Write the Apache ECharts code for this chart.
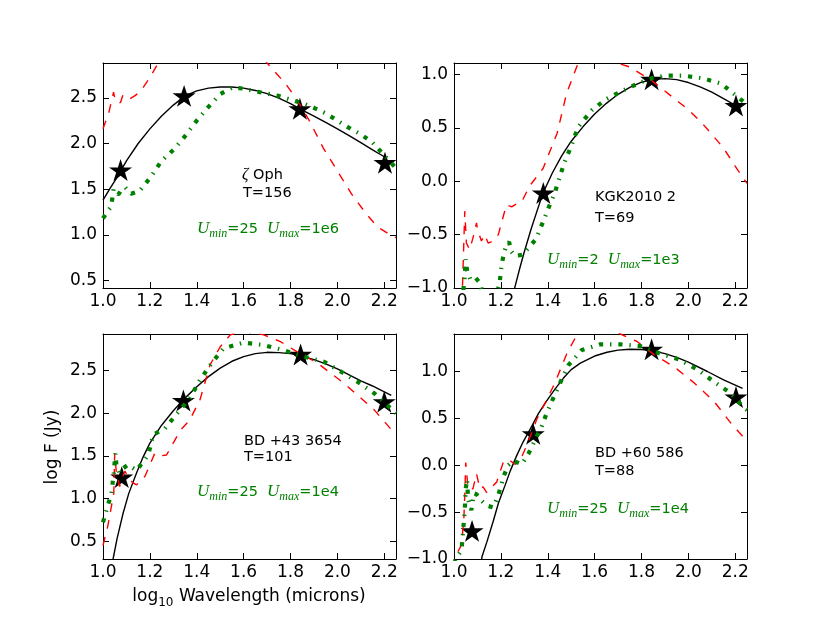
<!DOCTYPE html>
<html lang="en">
<head>
<meta charset="UTF-8">
<title>SED fits</title>
<script src="https://cdn.jsdelivr.net/npm/echarts@6.0.0/dist/echarts.min.js"></script>
<style>
  html, body { margin: 0; padding: 0; background: #fff; }
  #chart { width: 830px; height: 623px; }
</style>
</head>
<body>
<div id="chart"></div>
<script>
// Values: x = log10 wavelength (microns), y = log F (Jy)

// zeta Oph
const ophPhot = [[1.075, 1.71], [1.346, 2.52], [1.84, 2.38], [2.203, 1.79]];
const ophFit = [[1.0, 1.38], [1.03, 1.51], [1.06, 1.63], [1.1, 1.81], [1.15, 2.0], [1.2, 2.16], [1.25, 2.30],
  [1.3, 2.42], [1.35, 2.52], [1.4, 2.575], [1.45, 2.605], [1.5, 2.617], [1.55, 2.617], [1.6, 2.605], [1.65, 2.58],
  [1.7, 2.545], [1.75, 2.495], [1.8, 2.435], [1.85, 2.365], [1.9, 2.30], [1.95, 2.23], [2.0, 2.16], [2.05, 2.085],
  [2.1, 2.01], [2.15, 1.93], [2.2, 1.855]];
const ophDashed = [[1.0, 2.16], [1.025, 2.34], [1.045, 2.56], [1.05, 2.50], [1.065, 2.44], [1.075, 2.45], [1.085, 2.53],
  [1.1, 2.52], [1.115, 2.49], [1.135, 2.52], [1.16, 2.57], [1.2, 2.72], [1.236, 2.88], [1.3, 3.15], [1.45, 3.4],
  [1.6, 3.2], [1.7, 2.88], [1.78, 2.65], [1.83, 2.47], [1.88, 2.25], [1.94, 1.95], [2.0, 1.70], [2.06, 1.45],
  [2.12, 1.24], [2.17, 1.09], [2.22, 1.01], [2.25, 0.97]];
const ophDashDot = [[1.0, 1.18], [1.02, 1.26], [1.035, 1.31], [1.045, 1.50], [1.055, 1.47], [1.065, 1.44], [1.08, 1.50],
  [1.095, 1.52], [1.12, 1.45], [1.155, 1.48], [1.2, 1.62], [1.25, 1.81], [1.3, 1.93], [1.35, 2.08], [1.4, 2.25],
  [1.45, 2.40], [1.5, 2.54], [1.55, 2.61], [1.6, 2.60], [1.65, 2.57], [1.7, 2.545], [1.75, 2.52], [1.8, 2.48],
  [1.85, 2.44], [1.9, 2.39], [1.95, 2.33], [2.0, 2.25], [2.05, 2.17], [2.1, 2.10], [2.15, 2.01], [2.2, 1.87], [2.25, 1.73]];

// KGK2010 2
const kgkPhot = [[1.381, -0.11], [1.843, 0.955], [2.203, 0.71]];
const kgkFit = [[1.22, -1.4], [1.24, -1.19], [1.26, -0.99], [1.28, -0.82], [1.30, -0.66], [1.33, -0.44], [1.36, -0.24],
  [1.38, -0.11], [1.42, 0.08], [1.46, 0.24], [1.5, 0.375], [1.55, 0.51], [1.6, 0.63], [1.65, 0.73], [1.7, 0.815],
  [1.75, 0.88], [1.8, 0.928], [1.85, 0.955], [1.9, 0.962], [1.95, 0.952], [2.0, 0.925], [2.05, 0.885], [2.1, 0.835],
  [2.15, 0.775], [2.2, 0.712]];
const kgkDashed = [[1.02, -1.3], [1.036, -1.0], [1.046, -0.28], [1.053, -0.58], [1.067, -0.64], [1.081, -0.53],
  [1.096, -0.39], [1.1, -0.45], [1.117, -0.56], [1.131, -0.50], [1.146, -0.58], [1.167, -0.56], [1.189, -0.50],
  [1.21, -0.33], [1.224, -0.22], [1.246, -0.24], [1.267, -0.21], [1.289, -0.19], [1.324, -0.04], [1.38, 0.12],
  [1.44, 0.45], [1.48, 0.82], [1.53, 1.11], [1.6, 1.28], [1.68, 1.12], [1.75, 1.07], [1.84, 0.95], [1.94, 0.775],
  [2.0, 0.67], [2.05, 0.565], [2.1, 0.44], [2.15, 0.31], [2.2, 0.14], [2.25, -0.02]];
const kgkDashDot = [[1.03, -1.2], [1.045, -0.92], [1.05, -0.73], [1.056, -0.84], [1.07, -0.92], [1.09, -0.90],
  [1.11, -0.95], [1.13, -1.1], [1.17, -1.15], [1.195, -0.95], [1.203, -0.78], [1.215, -0.66], [1.225, -0.59],
  [1.235, -0.57], [1.245, -0.66], [1.26, -0.70], [1.29, -0.69], [1.32, -0.62], [1.35, -0.54], [1.38, -0.38],
  [1.405, -0.24], [1.43, -0.11], [1.445, 0.0], [1.47, 0.17], [1.5, 0.33], [1.53, 0.51], [1.59, 0.67], [1.65, 0.77],
  [1.72, 0.85], [1.8, 0.93], [1.85, 0.97], [1.91, 0.99], [1.98, 0.99], [2.06, 0.965], [2.14, 0.915], [2.21, 0.79],
  [2.25, 0.72]];

// BD +43 3654
const bd43Phot = [[1.08, 1.25], [1.343, 2.15], [1.843, 2.69], [2.2, 2.135]];
const bd43Fit = [[1.035, 0.15], [1.043, 0.29], [1.06, 0.53], [1.086, 0.83], [1.11, 1.06], [1.143, 1.30], [1.17, 1.48],
  [1.2, 1.65], [1.25, 1.86], [1.3, 2.03], [1.343, 2.16], [1.4, 2.31], [1.45, 2.43], [1.5, 2.53], [1.55, 2.61],
  [1.6, 2.665], [1.65, 2.70], [1.7, 2.715], [1.75, 2.712], [1.8, 2.70], [1.85, 2.67], [1.9, 2.63], [1.95, 2.58],
  [2.0, 2.52], [2.05, 2.45], [2.1, 2.38], [2.15, 2.32], [2.2, 2.25], [2.23, 2.21]];
const bd43Dashed = [[1.0, 0.45], [1.02, 0.67], [1.036, 0.91], [1.046, 1.06], [1.05, 1.53], [1.057, 1.30], [1.071, 1.14],
  [1.093, 1.32], [1.107, 1.26], [1.125, 1.19], [1.143, 1.16], [1.179, 1.26], [1.221, 1.53], [1.243, 1.50],
  [1.271, 1.51], [1.33, 1.80], [1.37, 1.92], [1.414, 2.16], [1.457, 2.57], [1.5, 2.78], [1.543, 2.92], [1.6, 2.96],
  [1.686, 2.92], [1.757, 2.84], [1.829, 2.72], [1.914, 2.59], [2.029, 2.35], [2.157, 2.04], [2.236, 1.79]];
const bd43DashDot = [[1.0, 0.72], [1.007, 0.79], [1.036, 1.06], [1.046, 1.30], [1.053, 1.53], [1.057, 1.40],
  [1.071, 1.30], [1.086, 1.355], [1.107, 1.395], [1.143, 1.33], [1.193, 1.51], [1.214, 1.75], [1.264, 1.82],
  [1.317, 2.0], [1.371, 2.18], [1.414, 2.39], [1.464, 2.59], [1.514, 2.76], [1.6, 2.83], [1.686, 2.80],
  [1.771, 2.74], [1.857, 2.665], [1.943, 2.605], [2.014, 2.49], [2.086, 2.37], [2.157, 2.235], [2.25, 2.0]];

// BD +60 586
const bd60Phot = [[1.077, -0.70], [1.338, 0.335], [1.843, 1.237], [2.203, 0.728]];
const bd60Fit = [[1.105, -1.2], [1.12, -0.97], [1.14, -0.82], [1.167, -0.60], [1.19, -0.40], [1.217, -0.22],
  [1.24, -0.06], [1.267, 0.10], [1.295, 0.25], [1.324, 0.38], [1.36, 0.55], [1.396, 0.69], [1.43, 0.81],
  [1.467, 0.93], [1.5, 1.02], [1.539, 1.09], [1.6, 1.165], [1.653, 1.205], [1.7, 1.228], [1.75, 1.237],
  [1.8, 1.235], [1.85, 1.22], [1.9, 1.19], [1.95, 1.15], [2.0, 1.10], [2.081, 1.0], [2.15, 0.91], [2.231, 0.82]];
const bd60Dashed = [[1.0, -1.1], [1.017, -0.92], [1.032, -0.85], [1.042, -0.57], [1.046, -0.32], [1.05, 0.03],
  [1.06, -0.25], [1.081, -0.25], [1.096, -0.09], [1.11, -0.25], [1.124, -0.23], [1.139, -0.29], [1.153, -0.25],
  [1.182, -0.18], [1.21, 0.03], [1.231, 0.065], [1.26, 0.01], [1.282, 0.05], [1.31, 0.21], [1.332, 0.35],
  [1.353, 0.49], [1.389, 0.665], [1.431, 0.88], [1.481, 1.19], [1.524, 1.39], [1.6, 1.6], [1.71, 1.40],
  [1.781, 1.32], [1.853, 1.18], [1.939, 1.05], [2.024, 0.88], [2.11, 0.68], [2.181, 0.45], [2.231, 0.31]];
const bd60DashDot = [[1.0, -1.05], [1.015, -0.97], [1.032, -0.91], [1.039, -0.69], [1.046, -0.48], [1.05, -0.25],
  [1.056, -0.15], [1.06, -0.36], [1.074, -0.48], [1.085, -0.30], [1.096, -0.31], [1.11, -0.36], [1.139, -0.43],
  [1.167, -0.45], [1.189, -0.32], [1.21, -0.13], [1.231, 0.0], [1.253, 0.047], [1.289, 0.01], [1.317, 0.12],
  [1.35, 0.29], [1.375, 0.42], [1.396, 0.56], [1.417, 0.68], [1.453, 0.88], [1.489, 1.07], [1.546, 1.23],
  [1.624, 1.29], [1.71, 1.29], [1.796, 1.27], [1.881, 1.19], [1.96, 1.13], [2.039, 1.02], [2.11, 0.89],
  [2.174, 0.78], [2.239, 0.61], [2.25, 0.59]];

// Panel text
const starNames = ['ζ Oph', 'KGK2010 2', 'BD +43 3654', 'BD +60 586'];
const temps = ['T=156', 'T=69', 'T=101', 'T=88'];
const uMins = ['25', '2', '25', '25'];
const uMaxs = ['1e6', '1e3', '1e4', '1e4'];

const GREEN = '#008000';
const STAR = 'path://M50,0L61.23,34.55L97.55,34.55L68.17,55.9L79.39,90.45L50,69.1L20.61,90.45L31.83,55.9L2.45,34.55L38.77,34.55Z';
const TICK_FONT = 'DejaVu Sans';

const panels = [
  { phot: ophPhot, fit: ophFit, dashed: ophDashed, dashDot: ophDashDot, yMin: 0.42, yMax: 2.88, left: 103, top: 63 },
  { phot: kgkPhot, fit: kgkFit, dashed: kgkDashed, dashDot: kgkDashDot, yMin: -1.0, yMax: 1.108, left: 454, top: 63 },
  { phot: bd43Phot, fit: bd43Fit, dashed: bd43Dashed, dashDot: bd43DashDot, yMin: 0.29, yMax: 2.93, left: 103, top: 334 },
  { phot: bd60Phot, fit: bd60Fit, dashed: bd60Dashed, dashDot: bd60DashDot, yMin: -1.0, yMax: 1.40, left: 454, top: 334 }
];
// where the annotations sit (pixels)
const notePos = [
  { name: [242, 175], temp: [243, 193], u: [197, 229] },
  { name: [595, 197], temp: [595, 218], u: [547, 260] },
  { name: [244, 441], temp: [244, 457], u: [197, 492] },
  { name: [595, 453], temp: [595, 471], u: [547, 509] }
];

function tickFmt(step) {
  return function (v) {
    const k = v / step;
    if (Math.abs(k - Math.round(k)) > 1e-6) return '';
    if (Math.abs(v) < 1e-9) v = 0;
    return v.toFixed(1).replace('-', '\u2212');
  };
}

function makeAxis(kind, gridIndex, position, withLabels, min, max, split, step) {
  return {
    type: 'value', gridIndex: gridIndex, position: position, min: min, max: max, splitNumber: split,
    axisLine: { show: true, onZero: false, lineStyle: { color: '#000', width: 1 } },
    axisTick: { show: true, inside: true, length: 6, lineStyle: { color: '#000', width: 1 } },
    axisLabel: {
      show: withLabels, color: '#000', fontFamily: TICK_FONT, fontSize: 17,
      margin: kind === 'x' ? 5 : 6, formatter: tickFmt(step)
    },
    splitLine: { show: false }
  };
}

const grid = [], xAxis = [], yAxis = [], series = [], graphic = [];
panels.forEach(function (p, i) {
  grid.push({ left: p.left, top: p.top, width: 293, height: 225, outerBoundsMode: 'none' });
  xAxis.push(makeAxis('x', i, 'bottom', true, 1.0, 2.25, 6, 0.2));
  xAxis.push(makeAxis('x', i, 'top', false, 1.0, 2.25, 6, 0.2));
  yAxis.push(makeAxis('y', i, 'left', true, p.yMin, p.yMax, 5, 0.5));
  yAxis.push(makeAxis('y', i, 'right', false, p.yMin, p.yMax, 5, 0.5));
  const xi = 2 * i, yi = 2 * i;
  series.push({
    type: 'scatter', xAxisIndex: xi, yAxisIndex: yi, data: p.phot, symbol: STAR, symbolSize: 23,
    symbolKeepAspect: true, itemStyle: { color: '#000', opacity: 1 }, z: 1, silent: true
  });
  series.push({
    type: 'line', xAxisIndex: xi, yAxisIndex: yi, data: p.fit, showSymbol: false, z: 2,
    lineStyle: { color: '#000', width: 1.4, type: 'solid' }
  });
  series.push({
    type: 'line', xAxisIndex: xi, yAxisIndex: yi, data: p.dashed, showSymbol: false, z: 3,
    lineStyle: { color: '#ff0000', width: 1.4, type: [8.6, 8.6] }
  });
  series.push({
    type: 'line', xAxisIndex: xi, yAxisIndex: yi, data: p.dashDot, showSymbol: false, z: 4,
    lineStyle: { color: GREEN, width: 4.2, type: [4.2, 6.9, 1.4, 6.9], cap: 'butt' }
  });

  const pos = notePos[i];
  const nameText = i === 0 ? '{g|ζ}{n| Oph}' : '{n|' + starNames[i] + '}';
  graphic.push({
    type: 'text', x: pos.name[0], y: pos.name[1],
    style: {
      text: nameText, align: 'left', verticalAlign: 'middle', textAlign: 'left', textVerticalAlign: 'middle',
      rich: {
        g: { fontFamily: 'Liberation Serif', fontStyle: 'italic', fontSize: 16, fill: '#000', color: '#000' },
        n: { fontFamily: TICK_FONT, fontSize: 14.5, fill: '#000', color: '#000' }
      }
    }
  });
  graphic.push({
    type: 'text', x: pos.temp[0], y: pos.temp[1],
    style: {
      text: temps[i], fontFamily: TICK_FONT, fontSize: 14.5, fill: '#000',
      align: 'left', verticalAlign: 'middle', textAlign: 'left', textVerticalAlign: 'middle'
    }
  });
  graphic.push({
    type: 'text', x: pos.u[0], y: pos.u[1],
    style: {
      text: '{u|U}{s|min}{n|=' + uMins[i] + '  }{u|U}{s|max}{n|=' + uMaxs[i] + '}',
      align: 'left', verticalAlign: 'middle', textAlign: 'left', textVerticalAlign: 'middle',
      rich: {
        u: { fontFamily: 'Liberation Serif', fontStyle: 'italic', fontSize: 17, fill: GREEN, color: GREEN, lineHeight: 22 },
        s: { fontFamily: 'Liberation Serif', fontStyle: 'italic', fontSize: 12, fill: GREEN, color: GREEN, lineHeight: 12, verticalAlign: 'bottom' },
        n: { fontFamily: TICK_FONT, fontSize: 14.5, fill: GREEN, color: GREEN, lineHeight: 22 }
      }
    }
  });
});

// axis titles
graphic.push({
  type: 'text', x: 53, y: 447, rotation: Math.PI / 2,
  style: {
    text: 'log F (Jy)', fontFamily: TICK_FONT, fontSize: 17, fill: '#000',
    align: 'center', verticalAlign: 'middle', textAlign: 'center', textVerticalAlign: 'middle'
  }
});
graphic.push({
  type: 'text', x: 249, y: 597,
  style: {
    text: '{n|log}{s|10}{n| Wavelength (microns)}',
    align: 'center', verticalAlign: 'middle', textAlign: 'center', textVerticalAlign: 'middle',
    rich: {
      n: { fontFamily: TICK_FONT, fontSize: 17, fill: '#000', color: '#000', lineHeight: 24 },
      s: { fontFamily: TICK_FONT, fontSize: 12, fill: '#000', color: '#000', lineHeight: 12, verticalAlign: 'bottom' }
    }
  }
});

const chart = echarts.init(document.getElementById('chart'));
chart.setOption({
  backgroundColor: '#fff',
  animation: false,
  grid: grid,
  xAxis: xAxis,
  yAxis: yAxis,
  series: series,
  graphic: graphic
});
</script>
</body>
</html>
